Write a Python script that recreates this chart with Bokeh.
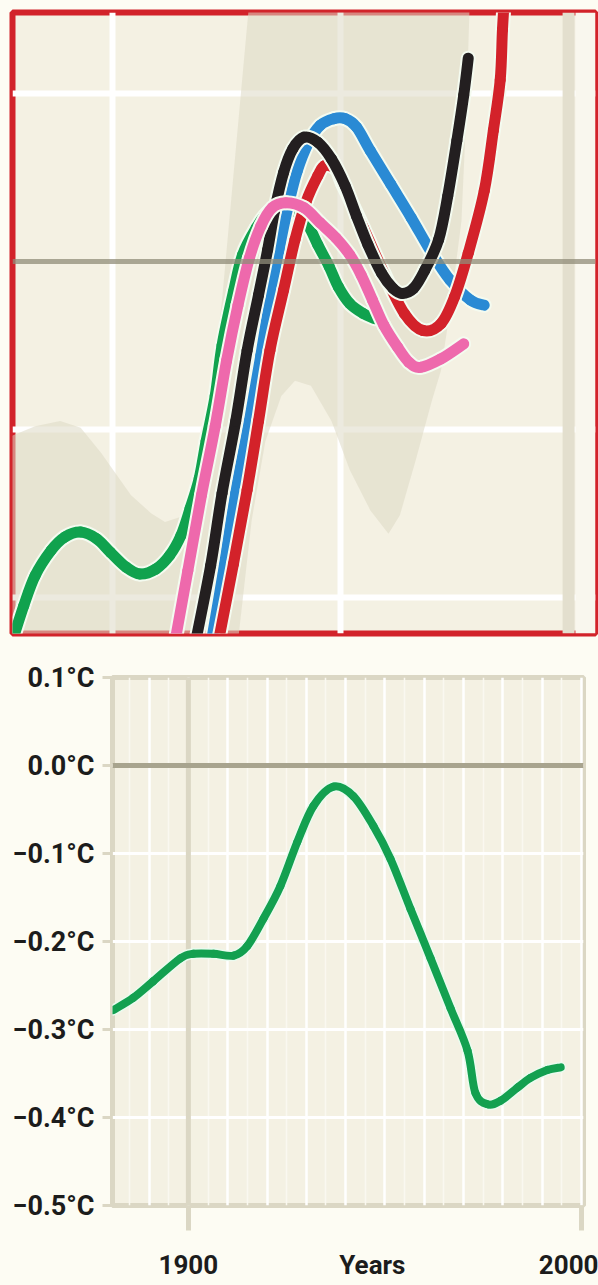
from bokeh.plotting import figure
from bokeh.models import Span, FixedTicker, BoxAnnotation, LinearAxis
from bokeh.embed import file_html
from bokeh.resources import INLINE

PAGE_BG = "#FDFCF3"
PLOT_BG = "#F4F1E3"
TAN = "#DBD7C4"
FONT = "Roboto"

# ---------------- top inset (magnified view) ----------------
band_x = [1975.0, 1976.6, 1977.7, 1978.6, 1979.5, 1980.8, 1981.7, 1982.3, 1983.2, 1983.9,
          1984.8, 1985.6, 1986.1, 1995.7, 1995.5, 1995.3, 1994.8, 1994.4, 1994.0, 1993.3,
          1992.6, 1992.1, 1991.3, 1990.4, 1989.6, 1988.7, 1988.0, 1987.4, 1986.7, 1986.1,
          1985.3, 1975.0]
band_y = [-0.107, -0.098, -0.095, -0.099, -0.114, -0.139, -0.150, -0.155, -0.151, -0.124,
          -0.023, 0.096, 0.170, 0.170, 0.084, 0.024, -0.029, -0.065, -0.083, -0.118,
          -0.151, -0.162, -0.148, -0.124, -0.095, -0.074, -0.071, -0.080, -0.107, -0.154,
          -0.250, -0.250]

green_x = [1975.6, 1976.1, 1976.6, 1977.3, 1977.9, 1978.6, 1979.3, 1979.9, 1980.6, 1981.2,
           1981.9, 1982.5, 1983.0, 1983.4, 1983.8, 1984.1, 1984.5, 1984.8, 1985.3, 1985.7,
           1986.3, 1986.8, 1987.5, 1988.1, 1988.6, 1989.0, 1989.5, 1989.9, 1990.4, 1991.0,
           1991.5]
green_y = [-0.226, -0.205, -0.187, -0.172, -0.164, -0.161, -0.165, -0.173, -0.182, -0.186,
           -0.183, -0.175, -0.163, -0.147, -0.129, -0.107, -0.080, -0.050, -0.018, 0.004,
           0.020, 0.029, 0.032, 0.029, 0.021, 0.010, -0.003, -0.015, -0.025, -0.031,
           -0.034]

pink_x = [1982.7, 1983.3, 1983.9, 1984.5, 1985.0, 1985.5, 1986.0, 1986.5, 1987.0, 1987.6,
          1988.4, 1989.1, 1989.8, 1990.4, 1990.9, 1991.4, 1991.9, 1992.5, 1993.0, 1993.5,
          1994.4, 1995.4]
pink_y = [-0.229, -0.184, -0.139, -0.098, -0.059, -0.026, 0.002, 0.021, 0.032, 0.035,
          0.032, 0.023, 0.014, 0.004, -0.008, -0.023, -0.038, -0.051, -0.060, -0.063,
          -0.058, -0.049]

black_x = [1983.6, 1984.3, 1984.8, 1985.4, 1985.9, 1986.4, 1986.8, 1987.1, 1987.5, 1987.9,
           1988.4, 1989.0, 1989.6, 1990.2, 1990.7, 1991.2, 1991.8, 1992.3, 1992.7, 1993.2,
           1993.7, 1994.3, 1994.7, 1995.1, 1995.4, 1995.6]
black_y = [-0.229, -0.181, -0.138, -0.095, -0.053, -0.020, 0.007, 0.030, 0.053, 0.067,
           0.074, 0.071, 0.061, 0.045, 0.027, 0.010, -0.007, -0.016, -0.019, -0.016,
           -0.005, 0.013, 0.039, 0.072, 0.099, 0.121]

blue_x = [1984.3, 1984.9, 1985.4, 1986.0, 1986.5, 1986.9, 1987.3, 1987.7, 1988.1, 1988.6,
          1989.1, 1989.7, 1990.2, 1990.7, 1991.3, 1992.2, 1993.1, 1994.0, 1994.8, 1995.7,
          1996.3]
blue_y = [-0.229, -0.181, -0.138, -0.095, -0.056, -0.023, 0.007, 0.033, 0.054, 0.071,
          0.081, 0.085, 0.085, 0.080, 0.066, 0.046, 0.026, 0.005, -0.011, -0.023,
          -0.026]

red_x = [1984.6, 1985.3, 1985.9, 1986.4, 1986.9, 1987.5, 1988.0, 1988.5, 1989.0, 1989.3,
         1989.8, 1990.1, 1991.0, 1991.9, 1992.8, 1993.6, 1994.4, 1995.0, 1995.6, 1996.3,
         1996.7, 1997.0, 1997.1, 1997.2]
red_y = [-0.229, -0.180, -0.136, -0.095, -0.053, -0.017, 0.013, 0.036, 0.051, 0.057,
         0.055, 0.046, 0.020, -0.007, -0.031, -0.041, -0.037, -0.021, 0.005, 0.042,
         0.078, 0.108, 0.138, 0.160]

top_hgrid = [0.1, -0.1, -0.2]
top_vgrid = [1980, 1990]

# ---------------- bottom chart ----------------
years = [1880.9, 1886.0, 1891.1, 1898.0, 1901.3, 1906.4, 1911.5, 1915.0, 1919.1, 1923.4,
         1927.7, 1931.8, 1936.9, 1942.0, 1947.1, 1951.4, 1956.5, 1961.6, 1966.7, 1971.0,
         1973.0, 1976.1, 1979.4, 1983.7, 1987.0, 1991.3, 1994.7]
temps = [-0.278, -0.264, -0.245, -0.219, -0.214, -0.214, -0.216, -0.205, -0.174, -0.137,
         -0.087, -0.046, -0.024, -0.035, -0.069, -0.106, -0.163, -0.219, -0.276, -0.324,
         -0.372, -0.385, -0.381, -0.366, -0.355, -0.346, -0.343]

y_ticks = [0.1, 0.0, -0.1, -0.2, -0.3, -0.4, -0.5]
y_labels = ["0.1°C", "0.0°C", "−0.1°C", "−0.2°C", "−0.3°C", "−0.4°C", "−0.5°C"]
x_ticks = [1900, 2000]
x_label_ticks = [1900, 1946.8, 2000]
x_labels = ["1900", "Years", "2000"]
decades = [1890, 1900, 1910, 1920, 1930, 1940, 1950, 1960, 1970, 1980, 1990, 2000]
half_decades = [1885, 1895, 1905, 1915, 1925, 1935, 1945, 1955, 1965, 1975, 1985, 1995]


def smooth(xs, ys):
    """Catmull-Rom -> cubic Bezier segments passing through the given points."""
    n = len(xs)
    px = [xs[0]] + list(xs) + [xs[-1]]
    py = [ys[0]] + list(ys) + [ys[-1]]
    d = {k: [] for k in ("x0", "y0", "x1", "y1", "cx0", "cy0", "cx1", "cy1")}
    for i in range(1, n):
        a, b, c, e = i - 1, i, i + 1, i + 2
        d["x0"].append(px[b]); d["y0"].append(py[b])
        d["x1"].append(px[c]); d["y1"].append(py[c])
        d["cx0"].append(px[b] + (px[c] - px[a]) / 6.0)
        d["cy0"].append(py[b] + (py[c] - py[a]) / 6.0)
        d["cx1"].append(px[c] - (px[e] - px[b]) / 6.0)
        d["cy1"].append(py[c] - (py[e] - py[b]) / 6.0)
    return d


# ================= top figure =================
top = figure(width=598, height=638, x_range=(1975.61, 2001.18), y_range=(-0.2214, 0.1482),
             output_backend="svg", toolbar_location=None,
             x_axis_location=None, y_axis_location=None,
             min_border_left=12, min_border_right=3, min_border_top=12, min_border_bottom=5,
             background_fill_color=PLOT_BG, border_fill_color=PAGE_BG,
             outline_line_color="#D2232A", outline_line_width=6)
top.xgrid.ticker = FixedTicker(ticks=top_vgrid)
top.ygrid.ticker = FixedTicker(ticks=top_hgrid)
top.xgrid.grid_line_color = "white"
top.ygrid.grid_line_color = "white"
top.xgrid.grid_line_width = 6
top.ygrid.grid_line_width = 6

top.add_layout(BoxAnnotation(left=2000.3, fill_color="#F9F7EE", fill_alpha=1.0,
                             line_color=None, level="underlay"))
top.add_layout(Span(location=2000, dimension="height", line_color="#E3DFCE",
                    line_width=12, level="underlay"))

top.patch(band_x, band_y, fill_color="#DDD8C4", fill_alpha=0.55, line_color=None)

series = [(green_x, green_y, "#10A24E"), (blue_x, blue_y, "#2A8AD4"),
          (red_x, red_y, "#D3222A"), (black_x, black_y, "#231F20"),
          (pink_x, pink_y, "#EE69AC")]
for xs, ys, col in series:
    seg = smooth(xs, ys)
    top.bezier(line_color="#F4FBF0", line_width=15, line_cap="round", **seg)
    top.bezier(line_color=col, line_width=11, line_cap="round", **seg)

top.add_layout(Span(location=0, dimension="width", line_color="#908C78",
                    line_alpha=0.75, line_width=5))

# ================= bottom figure =================
bot = figure(width=598, height=644, x_range=(1880.7, 2000.5), y_range=(-0.5, 0.1),
             output_backend="svg", toolbar_location=None,
             x_axis_location=None,
             min_border_left=112, min_border_right=15, min_border_top=39, min_border_bottom=20,
             background_fill_color=PLOT_BG, border_fill_color=PAGE_BG,
             outline_line_color=TAN, outline_line_width=5)

bot.xgrid.ticker = FixedTicker(ticks=decades, minor_ticks=half_decades)
bot.xgrid.grid_line_color = "white"
bot.xgrid.grid_line_width = 2.5
bot.xgrid.minor_grid_line_color = "#FAF8F0"
bot.xgrid.minor_grid_line_width = 1.5
bot.ygrid.ticker = FixedTicker(ticks=y_ticks)
bot.ygrid.grid_line_color = "white"
bot.ygrid.grid_line_width = 3

bot.add_layout(Span(location=1900, dimension="height", line_color=TAN,
                    line_width=5, level="underlay"))
bot.add_layout(Span(location=0, dimension="width", line_color="#A8A48E",
                    line_width=5, level="underlay"))

seg = smooth(years, temps)
bot.bezier(line_color="#EAFBEF", line_width=11, line_cap="round", **seg)
bot.bezier(line_color="#13A050", line_width=8, line_cap="round", **seg)

ya = bot.yaxis[0]
ya.ticker = FixedTicker(ticks=y_ticks)
ya.major_label_overrides = dict(zip(y_ticks, y_labels))
ya.axis_line_color = None
ya.major_tick_in = 0
ya.major_tick_out = 10
ya.major_tick_line_color = TAN
ya.major_tick_line_width = 3
ya.minor_tick_line_color = None
ya.major_label_standoff = 8
ya.major_label_text_font = FONT
ya.major_label_text_font_style = "bold"
ya.major_label_text_font_size = "27px"
ya.major_label_text_color = "#1C1C1C"

# tick marks only (1900 / 2000), next to the frame
xt = LinearAxis(ticker=FixedTicker(ticks=x_ticks))
xt.axis_line_color = None
xt.major_tick_in = 0
xt.major_tick_out = 25
xt.major_tick_line_color = TAN
xt.major_tick_line_width = 5
xt.minor_tick_line_color = None
xt.major_label_standoff = 0
xt.major_label_text_font_size = "0px"
xt.major_label_text_color = None
bot.add_layout(xt, "below")

# labels (1900 / Years / 2000)
xl = LinearAxis(ticker=FixedTicker(ticks=x_label_ticks))
xl.major_label_overrides = dict(zip(x_label_ticks, x_labels))
xl.axis_line_color = None
xl.major_tick_line_color = None
xl.minor_tick_line_color = None
xl.major_tick_in = 0
xl.major_tick_out = 0
xl.major_label_standoff = 19
xl.major_label_text_font = FONT
xl.major_label_text_font_style = "bold"
xl.major_label_text_font_size = "26px"
xl.major_label_text_color = "#1C1C1C"
bot.add_layout(xl, "below")

html = file_html([top, bot], INLINE)
html = html.replace("<body>", '<body style="background-color:%s;">' % PAGE_BG)
open("out.html", "w").write(html)
